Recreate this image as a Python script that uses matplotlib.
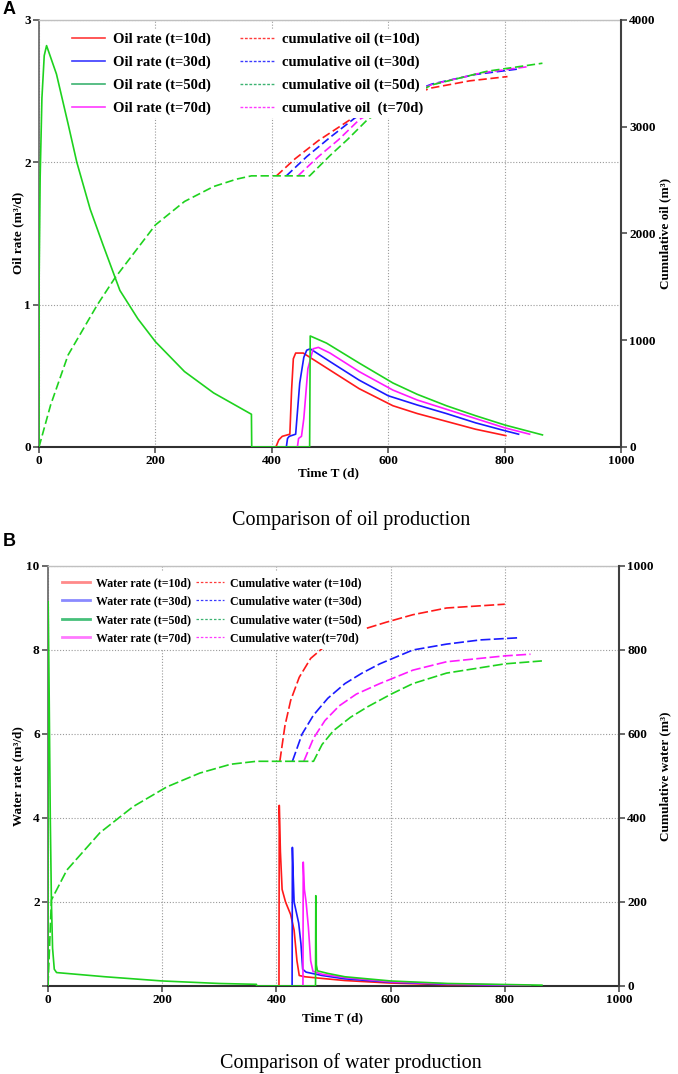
import matplotlib
matplotlib.use("Agg")
import matplotlib.pyplot as plt
from matplotlib.lines import Line2D

plt.rcParams['font.family'] = ['Liberation Serif', 'DejaVu Serif']
plt.rcParams['font.weight'] = 'bold'

# ---------------- DATA ----------------
x_ticks = [0, 200, 400, 600, 800, 1000]
oil_rate_ticks = [0, 1, 2, 3]
oil_cum_ticks = [0, 1000, 2000, 3000, 4000]
water_rate_ticks = [0, 2, 4, 6, 8, 10]
water_rate_ticklabels = ['', '2', '4', '6', '8', '10']
water_cum_ticks = [0, 200, 400, 600, 800, 1000]

cases = ['t=10d', 't=30d', 't=50d', 't=70d']

# Panel A: oil rate, shared first production stage
t_oil_s1 = [0, 0.3, 2, 5, 9, 13, 30, 50, 65, 88, 110, 139, 170, 200, 250, 300, 365, 365.5]
q_oil_s1 = [0, 1.2, 1.9, 2.45, 2.75, 2.82, 2.62, 2.27, 2.0, 1.67, 1.42, 1.1, 0.9, 0.74, 0.53, 0.38, 0.23, 0]
# oil rate after restart, per case
t_oil_10 = [407, 412, 418, 431, 434, 437, 441, 454, 500, 550, 608, 650, 700, 750, 802]
q_oil_10 = [0, 0.05, 0.075, 0.09, 0.4, 0.62, 0.66, 0.66, 0.54, 0.41, 0.29, 0.235, 0.18, 0.125, 0.08]
t_oil_30 = [425, 427, 430, 441, 448, 455, 460, 466, 500, 550, 600, 650, 700, 750, 800, 824]
q_oil_30 = [0, 0.06, 0.075, 0.09, 0.45, 0.63, 0.68, 0.69, 0.60, 0.47, 0.36, 0.295, 0.235, 0.17, 0.115, 0.09]
t_oil_50 = [465, 466, 480, 494, 550, 608, 650, 700, 750, 800, 865]
q_oil_50 = [0, 0.78, 0.755, 0.73, 0.59, 0.45, 0.37, 0.29, 0.22, 0.155, 0.085]
t_oil_70 = [444, 446, 451, 455, 462, 471, 480, 500, 550, 608, 650, 700, 750, 800, 843]
q_oil_70 = [0, 0.06, 0.075, 0.2, 0.55, 0.69, 0.70, 0.66, 0.53, 0.40, 0.33, 0.265, 0.2, 0.135, 0.09]

# cumulative oil
t_coil_s1 = [0, 20, 50, 100, 130, 200, 250, 300, 340, 365]
v_coil_s1 = [0, 394, 862, 1330, 1580, 2080, 2300, 2440, 2510, 2540]
t_coil_10 = [408, 440, 480, 534, 600, 675, 740, 805]
v_coil_10 = [2540, 2700, 2870, 3064, 3230, 3364, 3430, 3470]
t_coil_30 = [425, 460, 500, 543, 610, 675, 750, 822]
v_coil_30 = [2540, 2720, 2900, 3083, 3260, 3400, 3490, 3540]
t_coil_50 = [465, 500, 530, 565, 620, 675, 770, 865]
v_coil_50 = [2540, 2730, 2880, 3070, 3240, 3392, 3520, 3595]
t_coil_70 = [445, 480, 515, 551, 615, 675, 760, 843]
v_coil_70 = [2540, 2720, 2880, 3070, 3250, 3395, 3505, 3565]

# Panel B: water rate, shared first stage
t_wr_s1 = [0, 0.3, 2, 4, 6, 8, 11, 15, 100, 200, 300, 365, 365.5]
q_wr_s1 = [0, 9.15, 7.0, 4.0, 2.0, 0.9, 0.4, 0.32, 0.22, 0.12, 0.06, 0.04, 0]
t_wr_10 = [404.5, 405, 407, 410, 416, 425, 431, 436, 440, 450, 480, 520, 600, 700, 800]
q_wr_10 = [0, 4.3, 3.2, 2.3, 2.0, 1.7, 1.33, 0.6, 0.25, 0.22, 0.18, 0.13, 0.07, 0.03, 0.015]
t_wr_30 = [427.5, 428, 429.5, 431, 435, 439, 443, 446, 452, 480, 520, 600, 700, 823]
q_wr_30 = [0, 3.3, 2.6, 2.0, 1.75, 1.5, 1.0, 0.4, 0.33, 0.25, 0.17, 0.09, 0.04, 0.015]
t_wr_50 = [468.5, 469, 470, 472, 490, 520, 600, 700, 865]
q_wr_50 = [0, 2.15, 0.5, 0.36, 0.3, 0.22, 0.12, 0.06, 0.02]
t_wr_70 = [446.5, 447, 449, 452, 456, 460, 464, 480, 520, 600, 700, 845]
q_wr_70 = [0, 2.95, 2.3, 2.0, 1.4, 0.6, 0.35, 0.28, 0.2, 0.1, 0.05, 0.015]

# cumulative water
t_cw_s1 = [0, 6, 33, 91, 149, 208, 266, 320, 365]
v_cw_s1 = [0, 205, 276, 365, 427, 474, 507, 528, 535]
t_cw_10 = [406, 415, 425, 440, 460, 490, 530, 592, 639, 698, 800]
v_cw_10 = [535, 620, 680, 735, 780, 815, 840, 866, 884, 900, 909]
t_cw_30 = [428, 445, 465, 490, 520, 550, 581, 639, 698, 757, 823]
v_cw_30 = [535, 600, 645, 685, 720, 745, 767, 800, 814, 824, 829]
t_cw_50 = [465, 480, 500, 530, 560, 601, 639, 698, 800, 865]
v_cw_50 = [535, 575, 608, 640, 665, 695, 720, 745, 767, 774]
t_cw_70 = [448, 465, 485, 510, 540, 581, 639, 698, 800, 845]
v_cw_70 = [535, 590, 632, 667, 695, 720, 752, 772, 786, 790]

oil_rate_labels = ['Oil rate (t=10d)', 'Oil rate (t=30d)', 'Oil rate (t=50d)', 'Oil rate (t=70d)']
oil_cum_labels = ['cumulative oil (t=10d)', 'cumulative oil (t=30d)', 'cumulative oil (t=50d)',
                  'cumulative oil  (t=70d)']
water_rate_labels = ['Water rate (t=10d)', 'Water rate (t=30d)', 'Water rate (t=50d)', 'Water rate (t=70d)']
water_cum_labels = ['Cumulative water (t=10d)', 'Cumulative water (t=30d)', 'Cumulative water (t=50d)',
                    'Cumulative water(t=70d)']

# ---------------- FIGURE ----------------
W, H = 678, 1074
fig = plt.figure(figsize=(W / 100, H / 100), dpi=100)


def rect(l, t, r, b):
    return [l / W, 1 - b / H, (r - l) / W, (b - t) / H]


line_colors = ['#ff1a1a', '#1a1aff', '#1ed21e', '#ff1aff']
leg_colors_A = ['#ff3a3a', '#3a3aff', '#3cb371', '#ff3aff']
leg_colors_B = ['#ff8a8a', '#8a8aff', '#46c07a', '#ff7aff']
draw_order = [0, 1, 3, 2]  # t=50d (green) drawn last
GREEN = 2  # case whose curve shows the shared first stage


def style(ax, ax2):
    ax.set_xlim(0, 1000)
    ax.set_xticks(x_ticks)
    ax.grid(True, color='#9a9a9a', linestyle=(0, (1, 1.6)), linewidth=0.8)
    ax.set_axisbelow(True)
    ax.spines['right'].set_visible(False)
    ax.spines['top'].set_color('#c0c0c0')
    ax.spines['top'].set_linewidth(1.0)
    ax.spines['left'].set_color('#707070')
    ax.spines['left'].set_linewidth(1.3)
    ax.spines['bottom'].set_color('#303030')
    ax.spines['bottom'].set_linewidth(1.5)
    for s in ['left', 'bottom', 'top']:
        ax2.spines[s].set_visible(False)
    ax2.spines['right'].set_color('#404040')
    ax2.spines['right'].set_linewidth(1.5)
    for a in (ax, ax2):
        a.tick_params(direction='out', length=4, width=1.1, labelsize=9.5, pad=2,
                      color='#404040', labelcolor='black')


def px(x, y):
    return x / W, 1 - y / H


# ---------- Panel A ----------
axA = fig.add_axes(rect(39, 20, 621, 447))
axA2 = axA.twinx()
style(axA, axA2)
axA.set_ylim(0, 3)
axA.set_yticks(oil_rate_ticks)
axA2.set_ylim(0, 4000)
axA2.set_yticks(oil_cum_ticks)

oil_t = [t_oil_10, t_oil_30, t_oil_50, t_oil_70]
oil_q = [q_oil_10, q_oil_30, q_oil_50, q_oil_70]
coil_t = [t_coil_10, t_coil_30, t_coil_50, t_coil_70]
coil_v = [v_coil_10, v_coil_30, v_coil_50, v_coil_70]
for i in draw_order:
    tt = (t_oil_s1 + oil_t[i]) if i == GREEN else oil_t[i]
    qq = (q_oil_s1 + oil_q[i]) if i == GREEN else oil_q[i]
    axA.plot(tt, qq, color=line_colors[i], lw=1.2, zorder=3)
for i in draw_order:
    tt = (t_coil_s1 + coil_t[i]) if i == GREEN else coil_t[i]
    vv = (v_coil_s1 + coil_v[i]) if i == GREEN else coil_v[i]
    axA2.plot(tt, vv, color=line_colors[i], lw=1.2, linestyle=(0, (5, 2.2)), zorder=3)

hA = [Line2D([], [], color=c, lw=1.2) for c in leg_colors_A] + \
     [Line2D([], [], color=c, lw=1.0, linestyle=(0, (2, 1.2))) for c in leg_colors_A]
legA = axA2.legend(hA, oil_rate_labels + oil_cum_labels, ncol=2, loc='upper left',
                   bbox_to_anchor=(0.0515, 0.978), borderaxespad=0, frameon=True, framealpha=1,
                   edgecolor='none', facecolor='white', fancybox=False, fontsize=10.5,
                   handlelength=2.3, handletextpad=0.55, columnspacing=2.0, labelspacing=0.66,
                   borderpad=0.2)
legA.set_zorder(10)

fig.text(*px(329, 473), 'Time T (d)', ha='center', va='center', fontsize=9.5)
fig.text(*px(18, 233), 'Oil rate (m³/d)', ha='center', va='center', rotation=90, fontsize=9.5)
fig.text(*px(665, 233), 'Cumulative oil (m³)', ha='center', va='center', rotation=90, fontsize=9.5)
fig.text(*px(351, 525), 'Comparison of oil production', ha='center', va='baseline',
         fontsize=14.5, fontweight='normal')
fig.text(*px(3, 10), 'A', ha='left', va='center', fontsize=13,
         family=['Liberation Sans', 'DejaVu Sans'])

# ---------- Panel B ----------
axB = fig.add_axes(rect(48, 566, 619, 986))
axB2 = axB.twinx()
style(axB, axB2)
axB.set_ylim(0, 10)
axB.set_yticks(water_rate_ticks)
axB.set_yticklabels(water_rate_ticklabels)
axB2.set_ylim(0, 1000)
axB2.set_yticks(water_cum_ticks)

wr_t = [t_wr_10, t_wr_30, t_wr_50, t_wr_70]
wr_q = [q_wr_10, q_wr_30, q_wr_50, q_wr_70]
cw_t = [t_cw_10, t_cw_30, t_cw_50, t_cw_70]
cw_v = [v_cw_10, v_cw_30, v_cw_50, v_cw_70]
for i in draw_order:
    tt = (t_wr_s1 + wr_t[i]) if i == GREEN else wr_t[i]
    qq = (q_wr_s1 + wr_q[i]) if i == GREEN else wr_q[i]
    axB.plot(tt, qq, color=line_colors[i], lw=1.2, zorder=3)
for i in draw_order:
    tt = (t_cw_s1 + cw_t[i]) if i == GREEN else cw_t[i]
    vv = (v_cw_s1 + cw_v[i]) if i == GREEN else cw_v[i]
    axB2.plot(tt, vv, color=line_colors[i], lw=1.2, linestyle=(0, (6, 2)), zorder=3)

hB = [Line2D([], [], color=c, lw=2.0) for c in leg_colors_B] + \
     [Line2D([], [], color=c, lw=0.9, linestyle=(0, (2, 1.5))) for c in leg_colors_A]
legB = axB2.legend(hB, water_rate_labels + water_cum_labels, ncol=2, loc='upper left',
                   bbox_to_anchor=(0.0158, 0.985), borderaxespad=0, frameon=True, framealpha=1,
                   edgecolor='none', facecolor='white', fancybox=False, fontsize=8.6,
                   handlelength=2.35, handletextpad=0.5, columnspacing=0.42, labelspacing=0.54,
                   borderpad=0.4)
legB.set_zorder(10)

fig.text(*px(333, 1018), 'Time T (d)', ha='center', va='center', fontsize=9.5)
fig.text(*px(18, 776), 'Water rate (m³/d)', ha='center', va='center', rotation=90, fontsize=9.5)
fig.text(*px(665, 776), 'Cumulative water (m³)', ha='center', va='center', rotation=90, fontsize=9.5)
fig.text(*px(351, 1068), 'Comparison of water production', ha='center', va='baseline',
         fontsize=14.5, fontweight='normal')
fig.text(*px(3, 541), 'B', ha='left', va='center', fontsize=13,
         family=['Liberation Sans', 'DejaVu Sans'])

fig.savefig('out.png', dpi=100, facecolor='white')
